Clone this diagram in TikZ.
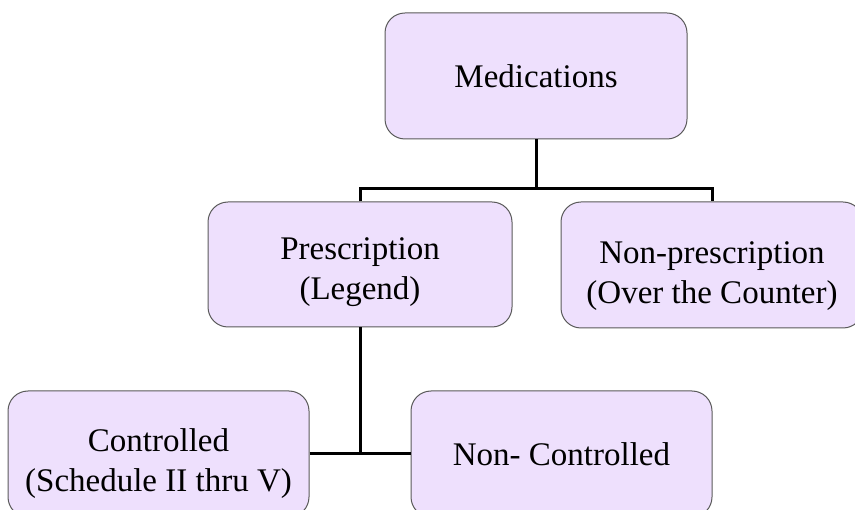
\documentclass[tikz,border=0pt]{standalone}
\usepackage{fontspec}
\setmainfont{Liberation Serif}
\definecolor{boxfill}{RGB}{238,224,253}
\definecolor{boxline}{RGB}{90,90,90}
\newcommand{\twoline}[3]{\raisebox{-#1}[\height][\depth]{\begin{tabular}{@{}c@{}}#2\\#3\end{tabular}}}
\begin{document}
\begin{tikzpicture}[x=1pt,y=-1pt,
  boxnode/.style={draw=boxline, line width=1pt, fill=boxfill, rounded corners=20pt,
    minimum width=302pt, minimum height=126pt, align=center, inner sep=0pt,
    font=\fontsize{33}{40}\selectfont},
  conn/.style={draw=black, line width=3pt}]
\useasboundingbox (0,0) rectangle (855,510);
\node[boxnode] (med) at (536,76) {Medications};
\node[boxnode, minimum width=304pt, minimum height=125pt] (pres) at (360,264.5) {\twoline{7pt}{Prescription}{(Legend)}};
\node[boxnode, minimum height=126pt] (nonp) at (712,265) {\twoline{11pt}{Non-prescription}{(Over the Counter)}};
\node[boxnode, minimum width=301pt] (ctrl) at (158.5,454) {\twoline{10pt}{Controlled}{(Schedule II thru V)}};
\node[boxnode, minimum width=301pt] (nonc) at (561.5,454) {Non- Controlled};
\draw[conn] (med.south) -- ++(0,49) coordinate (j1);
\draw[conn] (pres.north) |- (j1) -| (nonp.north);
\draw[conn] (pres.south) -- (pres.south |- ctrl.east);
\draw[conn] (ctrl.east) -- (nonc.west);
\end{tikzpicture}
\end{document}
